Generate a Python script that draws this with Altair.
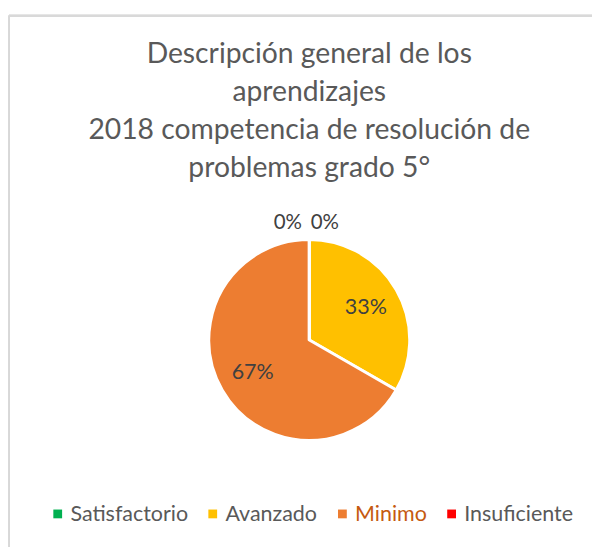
import altair as alt
import pandas as pd

niveles = ["Satisfactorio", "Avanzado", "Minimo", "Insuficiente"]
porcentajes = [0.0, 33.33, 66.67, 0.0]
etiquetas = ["0%", "33%", "67%", "0%"]
colores = ["#00B050", "#FFC000", "#ED7D31", "#FF0000"]
titulo = [
    "Descripción general de los",
    "aprendizajes",
    "2018 competencia de resolución de",
    "problemas grado 5°",
]

df = pd.DataFrame({
    "nivel": niveles,
    "valor": porcentajes,
    "etiqueta": etiquetas,
    "orden": list(range(len(niveles))),
})

FONT = "Lato"
GRAY = "#595959"

base = alt.Chart(df).encode(
    theta=alt.Theta("valor:Q", stack=True),
    order=alt.Order("orden:Q", sort="ascending"),
)

pie = base.mark_arc(radius=103, stroke="white", strokeWidth=3).encode(
    color=alt.Color(
        "nivel:N",
        scale=alt.Scale(domain=niveles, range=colores),
        sort=niveles,
        legend=alt.Legend(
            title=None,
            orient="none",
            legendX=21,
            legendY=322,
            direction="horizontal",
            columns=4,
            symbolType="square",
            symbolSize=81,
            symbolStrokeWidth=0,
            labelFont=FONT,
            labelFontSize=22,
            labelColor={"expr": "datum.value == 'Minimo' ? '#C55A11' : '#595959'"},
            columnPadding=14,
            labelOffset=2,
        ),
    ),
)

inner = base.mark_text(radius=67, font=FONT, fontSize=22, color="#404040").encode(
    text="etiqueta:N"
).transform_filter("datum.valor > 0")

zero_right = base.mark_text(radius=120, font=FONT, fontSize=21, color="#404040", dx=16).encode(
    text="etiqueta:N"
).transform_filter("datum.nivel == 'Satisfactorio'")

zero_left = base.mark_text(radius=120, font=FONT, fontSize=21, color="#404040", dx=-22).encode(
    text="etiqueta:N"
).transform_filter("datum.nivel == 'Insuficiente'")

border_left = alt.Chart(df).mark_rule(color="#D9D9D9", strokeWidth=2).encode(
    x=alt.value(-18), y=alt.value(-178), y2=alt.value(600)
)
border_top = alt.Chart(df).mark_rule(color="#D9D9D9", strokeWidth=2).encode(
    x=alt.value(-18), x2=alt.value(700), y=alt.value(-178)
)

chart = alt.layer(border_left, border_top, pie, inner, zero_right, zero_left).properties(
    width=580,
    height=309,
    padding={"left": 19, "top": 179, "right": 0, "bottom": 51},
    autosize=alt.AutoSizeParams(type="none"),
    title=alt.TitleParams(
        text=titulo,
        font=FONT,
        fontSize=29,
        fontWeight="normal",
        color=GRAY,
        lineHeight=39,
        anchor="middle",
        baseline="bottom",
        offset=-201,
    ),
).configure_view(stroke=None)

chart.save("out.html", embed_options={"renderer": "svg", "actions": False})
